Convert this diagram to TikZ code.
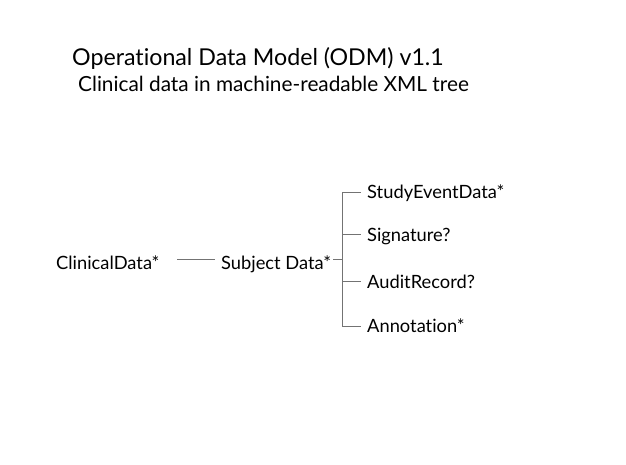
\documentclass[tikz,border=0pt]{standalone}
\usepackage{fontspec}
\setmainfont{Lato}[Ligatures=NoCommon]
\begin{document}
\begin{tikzpicture}[x=1pt,y=-1pt,
  title/.style={anchor=base west,inner sep=0pt,font=\fontsize{23.2}{28}\selectfont},
  subtitle/.style={anchor=base west,inner sep=0pt,font=\fontsize{20.8}{25}\selectfont},
  item/.style={anchor=base west,inner sep=0pt,font=\fontsize{18.3}{22}\selectfont},
  link/.style={draw=black!55,line width=1pt}]
\useasboundingbox[fill=white] (0,0) rectangle (626,465);

\node[title] (t) at (72,66) {Operational Data Model (ODM) v1.1};
\node[subtitle] (s) at (78,92) {Clinical data in machine-readable XML tree};

\node[item] (cd) at (56,269) {ClinicalData*};
\node[item] (sd) at (221,269) {Subject Data*};
\node[item] (se) at (367,199) {StudyEventData*};
\node[item] (sg) at (367,241) {Signature?};
\node[item] (ar) at (367,288) {AuditRecord?};
\node[item] (an) at (367,332) {Annotation*};

% connectors of the tree
\coordinate (c1) at (177,259);
\coordinate (c2) at (215,259);
\coordinate (j) at (342,259);
\draw[link] (c1) -- (c2);
\draw[link] (333,259) -- (j);
\coordinate (bse) at (342,193);
\coordinate (bsg) at (342,234);
\coordinate (bar) at (342,281);
\coordinate (ban) at (342,326);
\draw[link] (bse) -- (ban);
\draw[link] (bse) -- (361,193);
\draw[link] (bsg) -- (361,234);
\draw[link] (bar) -- (361,281);
\draw[link] (ban) -- (361,326);
\end{tikzpicture}
\end{document}
